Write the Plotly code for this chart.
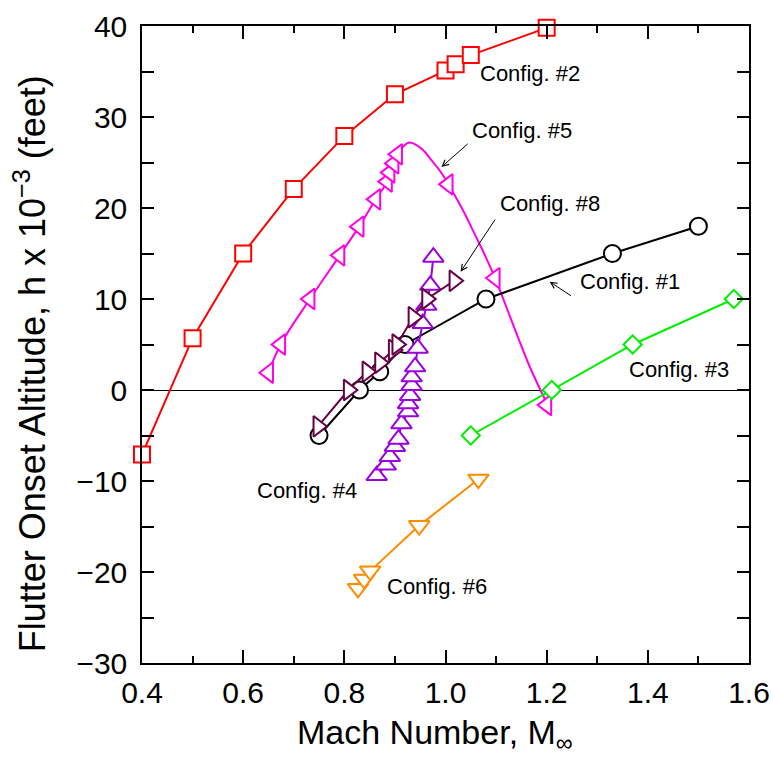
import plotly.graph_objects as go

# ---------------- data ----------------
c2_M = [0.40, 0.50, 0.60, 0.70, 0.80, 0.90, 1.00, 1.02, 1.05, 1.20]
c2_h = [-7.1, 5.7, 15.0, 22.1, 27.9, 32.5, 35.1, 35.8, 36.8, 39.8]

c5_M = [0.650, 0.674, 0.732, 0.791, 0.829, 0.862, 0.885, 0.890, 0.898, 0.905, 1.005, 1.098, 1.200]
c5_h = [1.9, 5.0, 10.0, 14.8, 17.95, 20.95, 22.9, 23.9, 24.9, 25.9, 22.6, 12.3, -1.65]
# smooth fitted curve through Config. #5
c5_curve_M = [0.650, 0.674, 0.732, 0.791, 0.829, 0.862, 0.885, 0.898, 0.905, 0.928, 0.953, 0.973, 0.992,
              1.012, 1.034, 1.058, 1.078, 1.098, 1.137, 1.167, 1.202]
c5_curve_h = [1.9, 5.0, 10.0, 14.8, 17.95, 20.95, 22.9, 24.9, 25.9, 27.2, 26.5, 25.2, 23.85,
              22.0, 19.8, 17.1, 14.8, 12.3, 6.7, 2.5, -1.65]

c1_M = [0.75, 0.83, 0.87, 0.92, 1.08, 1.33, 1.50]
c1_h = [-5.0, 0.0, 2.0, 5.0, 10.0, 15.0, 18.0]

c3_M = [1.05, 1.21, 1.37, 1.57]
c3_h = [-5.0, 0.0, 5.0, 10.0]

c6_M = [0.827, 0.839, 0.851, 0.948, 1.065]
c6_h = [-21.8, -20.8, -19.9, -14.9, -9.8]

c4_M = [0.864, 0.882, 0.890, 0.900, 0.907, 0.913, 0.926, 0.926, 0.930, 0.933, 0.933, 0.940, 0.945,
        0.955, 0.962, 0.970, 0.976]
c4_h = [-9.4, -8.25, -7.3, -6.2, -5.4, -3.7, -2.4, -1.5, -0.6, 0.5, 1.45, 2.55, 4.6,
        7.3, 9.3, 11.5, 14.6]

c8_M = [0.748, 0.808, 0.845, 0.870, 0.897, 0.904, 0.936, 0.963, 1.017]
c8_h = [-4.0, 0.0, 2.0, 3.0, 4.4, 5.0, 8.0, 10.0, 12.0]

labels = ["Config. #2", "Config. #5", "Config. #8", "Config. #1", "Config. #3", "Config. #4", "Config. #6"]
label_M = [1.064, 1.048, 1.104, 1.262, 1.358, 0.623, 0.880]
label_h = [34.8, 28.5, 20.5, 11.9, 2.2, -11.0, -21.6]

# arrows: (tail M, tail h, head M, head h)
arrow_tail_M = [1.047, 1.100, 1.251]
arrow_tail_h = [27.2, 18.9, 10.25]
arrow_head_M = [0.992, 1.030, 1.206]
arrow_head_h = [24.5, 13.0, 11.9]

x_ticks = [0.4, 0.6, 0.8, 1.0, 1.2, 1.4, 1.6]
x_ticklabels = ["0.4", "0.6", "0.8", "1.0", "1.2", "1.4", "1.6"]

x_title = "Mach Number, M<sub>∞</sub>"
y_title = "Flutter Onset Altitude, h x 10<sup>−3</sup> (feet)"

# ---------------- figure ----------------
RED = "#ff0000"
MAG = "#ff00e6"
BLK = "#000000"
GRN = "#00ee00"
ORG = "#ff8c00"
VIO = "#9900dd"
MAR = "#660044"
FONT = "Liberation Sans, Arial, Helvetica, sans-serif"

fig = go.Figure()

def series(x, y, color, symbol, size, mode="lines+markers", lw=2, shape="linear"):
    fig.add_trace(go.Scatter(
        x=x, y=y, mode=mode, cliponaxis=False,
        line=dict(color=color, width=lw, shape=shape),
        marker=dict(symbol=symbol, size=size, color="white",
                    line=dict(color=color, width=2)),
        showlegend=False, hoverinfo="skip"))

series(c2_M, c2_h, RED, "square", 16)
series(c5_curve_M, c5_curve_h, MAG, "circle", 1, mode="lines", shape="spline")
series(c5_M, c5_h, MAG, "triangle-left", 18, mode="markers")
series(c3_M, c3_h, GRN, "diamond", 14)
series(c6_M, c6_h, ORG, "triangle-down", 18)
series(c1_M, c1_h, BLK, "circle", 17)
series(c4_M, c4_h, VIO, "triangle-up", 18)
series(c8_M, c8_h, MAR, "triangle-right", 18)

for t, mx, hy in zip(labels, label_M, label_h):
    fig.add_annotation(x=mx, y=hy, text=t, showarrow=False, xanchor="left", yanchor="middle",
                       font=dict(family=FONT, size=22, color="black"))

for tx, ty, hx, hy in zip(arrow_tail_M, arrow_tail_h, arrow_head_M, arrow_head_h):
    fig.add_annotation(x=hx, y=hy, ax=tx, ay=ty, xref="x", yref="y", axref="x", ayref="y",
                       text="", showarrow=True, arrowhead=5, arrowsize=1.2, arrowwidth=1,
                       arrowcolor="black")

# axis titles
fig.add_annotation(xref="paper", yref="paper", x=0.4827, y=-0.112, text=x_title, showarrow=False,
                   xanchor="center", yanchor="middle", font=dict(family=FONT, size=34, color="black"))
fig.add_annotation(xref="paper", yref="paper", x=-0.1845, y=0.469, text=y_title, showarrow=False,
                   textangle=-90, xanchor="center", yanchor="middle",
                   font=dict(family=FONT, size=36, color="black"))

axis_common = dict(showline=True, linecolor="black", linewidth=1.5, mirror="ticks",
                   ticks="inside", tickcolor="black", tickwidth=1.5, showgrid=False,
                   automargin=False, ticklabeloverflow="allow")

fig.update_xaxes(range=[0.4, 1.6], tickvals=x_ticks, ticktext=x_ticklabels, ticklen=13,
                 minor=dict(dtick=0.1, ticks="inside", ticklen=7, tickcolor="black", tickwidth=1.5, showgrid=False),
                 zeroline=False, ticklabelstandoff=2,
                 tickfont=dict(size=30), **axis_common)
fig.update_yaxes(range=[-30, 40], dtick=10, tick0=0, ticklen=12,
                 minor=dict(dtick=5, ticks="inside", ticklen=12, tickcolor="black", tickwidth=1.5, showgrid=False),
                 zeroline=True, zerolinecolor="black", zerolinewidth=1, ticklabelstandoff=7,
                 tickfont=dict(size=30), **axis_common)

fig.update_layout(width=773, height=757, margin=dict(l=142, r=24, t=26, b=94, autoexpand=False),
                  plot_bgcolor="white", paper_bgcolor="white", showlegend=False,
                  font=dict(family=FONT, color="black"))

fig.write_html("out.html", config={"displayModeBar": False},
               post_script="document.body.style.margin='0';document.body.style.overflow='hidden';")
